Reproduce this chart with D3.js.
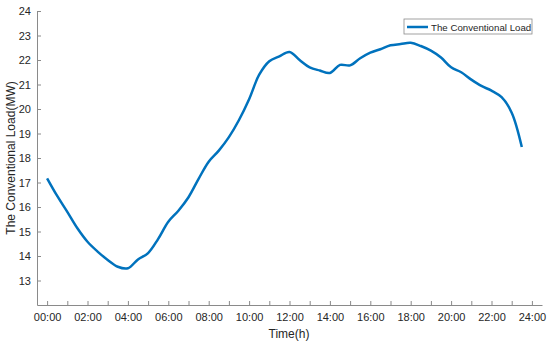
<!DOCTYPE html>
<html>
<head>
<meta charset="utf-8">
<script src="https://cdn.jsdelivr.net/npm/d3@7"></script>
<style>
  body { margin: 0; background: #fff; }
  text { font-family: "Liberation Sans", Arial, sans-serif; }
</style>
</head>
<body>
<svg id="chart" width="550" height="345"></svg>
<script>
// time of day in hours (half-hour steps)
const hours = [
  0, 0.5, 1, 1.5, 2, 2.5, 3, 3.5, 4, 4.5, 5, 5.5,
  6, 6.5, 7, 7.5, 8, 8.5, 9, 9.5, 10, 10.5, 11, 11.5,
  12, 12.5, 13, 13.5, 14, 14.5, 15, 15.5, 16, 16.5, 17, 17.5,
  18, 18.5, 19, 19.5, 20, 20.5, 21, 21.5, 22, 22.5, 23, 23.5
];
// conventional load in MW
const load = [
  17.17, 16.45, 15.8, 15.13, 14.58, 14.18, 13.84, 13.56, 13.5, 13.86, 14.12, 14.7,
  15.4, 15.85, 16.4, 17.15, 17.85, 18.3, 18.85, 19.55, 20.4, 21.4, 21.95, 22.15,
  22.33, 22.0, 21.7, 21.57, 21.47, 21.8, 21.78, 22.07, 22.3, 22.44, 22.6, 22.65,
  22.7, 22.57, 22.38, 22.1, 21.7, 21.5, 21.2, 20.94, 20.75, 20.48, 19.85, 18.45
];
const xTicks = d3.range(0, 25, 1);
const xLabels = ['00:00', '02:00', '04:00', '06:00', '08:00', '10:00', '12:00',
  '14:00', '16:00', '18:00', '20:00', '22:00', '24:00'];
const yTicks = [13, 14, 15, 16, 17, 18, 19, 20, 21, 22, 23, 24];
const seriesName = 'The Conventional Load';

const svg = d3.select('#chart');
const axisColor = '#8a8a8a';
const textColor = '#262626';

const x = d3.scaleLinear().domain([-0.5, 24.5]).range([37, 542]);
const y = d3.scaleLinear().domain([12, 24]).range([305, 11]);

// x axis (ticks point inward)
const xAxis = d3.axisBottom(x)
  .tickValues(xTicks)
  .tickSizeInner(-4)
  .tickSizeOuter(0)
  .tickPadding(8)
  .tickFormat(d => d % 2 === 0 ? xLabels[d / 2] : '');

const gx = svg.append('g')
  .attr('transform', 'translate(0,305)')
  .call(xAxis);

// y axis
const yAxis = d3.axisLeft(y)
  .tickValues(yTicks)
  .tickSizeInner(-4)
  .tickSizeOuter(0)
  .tickPadding(6);

const gy = svg.append('g')
  .attr('transform', 'translate(37,0)')
  .call(yAxis);

[gx, gy].forEach(g => {
  g.select('.domain').attr('stroke', axisColor);
  g.selectAll('.tick line').attr('stroke', axisColor);
  g.selectAll('.tick text')
    .attr('fill', textColor)
    .style('font-size', '11px');
});

// axis titles
svg.append('text')
  .attr('x', 289)
  .attr('y', 338)
  .attr('text-anchor', 'middle')
  .attr('fill', textColor)
  .style('font-size', '12px')
  .text('Time(h)');

svg.append('text')
  .attr('transform', 'translate(15,158) rotate(-90)')
  .attr('text-anchor', 'middle')
  .attr('fill', textColor)
  .style('font-size', '12px')
  .text('The Conventional Load(MW)');

// the load curve
const line = d3.line()
  .x((d, i) => x(hours[i]))
  .y(d => y(d))
  .curve(d3.curveCatmullRom.alpha(0.5));

svg.append('path')
  .datum(load)
  .attr('fill', 'none')
  .attr('stroke', '#0072BD')
  .attr('stroke-width', 2.5)
  .attr('stroke-linejoin', 'round')
  .attr('d', line);

// legend
const legend = svg.append('g').attr('transform', 'translate(404,19)');
legend.append('rect')
  .attr('width', 128)
  .attr('height', 15)
  .attr('fill', '#fff')
  .attr('stroke', axisColor)
  .attr('stroke-width', 0.8);
legend.append('line')
  .attr('x1', 3).attr('x2', 24)
  .attr('y1', 8).attr('y2', 8)
  .attr('stroke', '#0072BD')
  .attr('stroke-width', 2.5);
legend.append('text')
  .attr('x', 27)
  .attr('y', 11.5)
  .attr('fill', textColor)
  .style('font-size', '9.7px')
  .text(seriesName);
</script>
</body>
</html>
